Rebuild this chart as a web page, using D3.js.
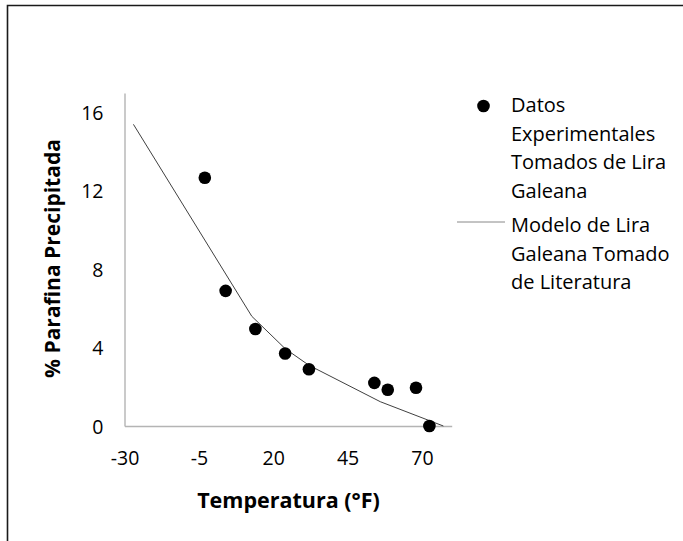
<!DOCTYPE html>
<html>
<head>
<meta charset="utf-8">
<script src="https://cdn.jsdelivr.net/npm/d3@7"></script>
<style>
  html, body { margin: 0; padding: 0; background: #fff; }
  svg { display: block; }
  text { font-family: "Open Sans", Lato, sans-serif; fill: #000; }
</style>
</head>
<body>
<svg id="chart" width="683" height="541"></svg>
<script>
// Experimental paraffin precipitation data (temperature °F, % precipitated)
const expTemp = [-3, 4, 14, 24, 32, 54, 58.5, 68, 72.5];
const expPct  = [12.67, 6.9, 4.95, 3.7, 2.9, 2.2, 1.85, 1.95, 0];

// Model curve from the literature
const modelTemp = [-27, 12.8, 24, 32, 56, 77.2];
const modelPct  = [15.4, 5.6, 3.95, 3.1, 1.24, 0];

const xTicks = [-30, -5, 20, 45, 70];
const yTicks = [0, 4, 8, 12, 16];

const legendExp = ["Datos", "Experimentales", "Tomados de Lira", "Galeana"];
const legendModel = ["Modelo de Lira", "Galeana Tomado", "de Literatura"];

const FONT = "'Open Sans', Lato, sans-serif";
const svg = d3.select("#chart");

// outer frame (left and top edges)
svg.append("path")
  .attr("d", "M7.5,541 V5.5 H683")
  .attr("fill", "none")
  .attr("stroke", "#1a1a1a")
  .attr("stroke-width", 1.6);

const x = d3.scaleLinear().domain([-30, 80]).range([124.5, 451.7]);
const y = d3.scaleLinear().domain([0, 17]).range([426, 93]);

// axes
const gx = svg.append("g").attr("transform", `translate(0,${y(0)})`)
  .call(d3.axisBottom(x).tickValues(xTicks).tickSize(0).tickFormat(d => String(d)));
gx.select(".domain").attr("stroke", "#b4b4b4").attr("stroke-width", 1.4);
gx.selectAll("text")
  .attr("y", 0).attr("dy", "38.5px")
  .style("font-size", "19.5px").style("font-family", FONT).attr("fill", "#000");

const gy = svg.append("g").attr("transform", `translate(${x(-30)},0)`)
  .call(d3.axisLeft(y).tickValues(yTicks).tickSize(0).tickPadding(21).tickFormat(d => String(d)));
gy.select(".domain").attr("stroke", "#b4b4b4").attr("stroke-width", 1.4);
gy.selectAll("text")
  .attr("dy", "0.36em")
  .style("font-size", "19.5px").style("font-family", FONT).attr("fill", "#000");

// model line
const line = d3.line().x((d, i) => x(modelTemp[i])).y(d => y(d));
svg.append("path")
  .datum(modelPct)
  .attr("d", line)
  .attr("fill", "none")
  .attr("stroke", "#2a2a2a")
  .attr("stroke-width", 0.9);

// experimental points
svg.append("g").selectAll("circle")
  .data(expPct)
  .join("circle")
  .attr("cx", (d, i) => x(expTemp[i]))
  .attr("cy", d => y(d))
  .attr("r", 6.3)
  .attr("fill", "#000");

// axis titles
svg.append("text")
  .attr("x", 288.5).attr("y", 508)
  .attr("text-anchor", "middle")
  .style("font-size", "21.5px").style("font-weight", "bold")
  .text("Temperatura (°F)");

svg.append("text")
  .attr("transform", "translate(59.5,258.5) rotate(-90)")
  .attr("text-anchor", "middle")
  .style("font-size", "21px").style("font-weight", "bold")
  .text("% Parafina Precipitada");

// legend
const lg = svg.append("g");
lg.append("circle").attr("cx", 483.5).attr("cy", 106).attr("r", 6.3).attr("fill", "#000");
lg.selectAll("text.exp")
  .data(legendExp)
  .join("text")
  .attr("class", "exp")
  .attr("x", 511).attr("y", (d, i) => 105 + i * 28.5)
  .attr("dy", "0.36em")
  .style("font-size", "20px")
  .text(d => d);
lg.append("line")
  .attr("x1", 457).attr("x2", 505).attr("y1", 222).attr("y2", 222)
  .attr("stroke", "#888").attr("stroke-width", 1);
lg.selectAll("text.mod")
  .data(legendModel)
  .join("text")
  .attr("class", "mod")
  .attr("x", 511).attr("y", (d, i) => 225 + i * 28.5)
  .attr("dy", "0.36em")
  .style("font-size", "20px")
  .text(d => d);
</script>
</body>
</html>
